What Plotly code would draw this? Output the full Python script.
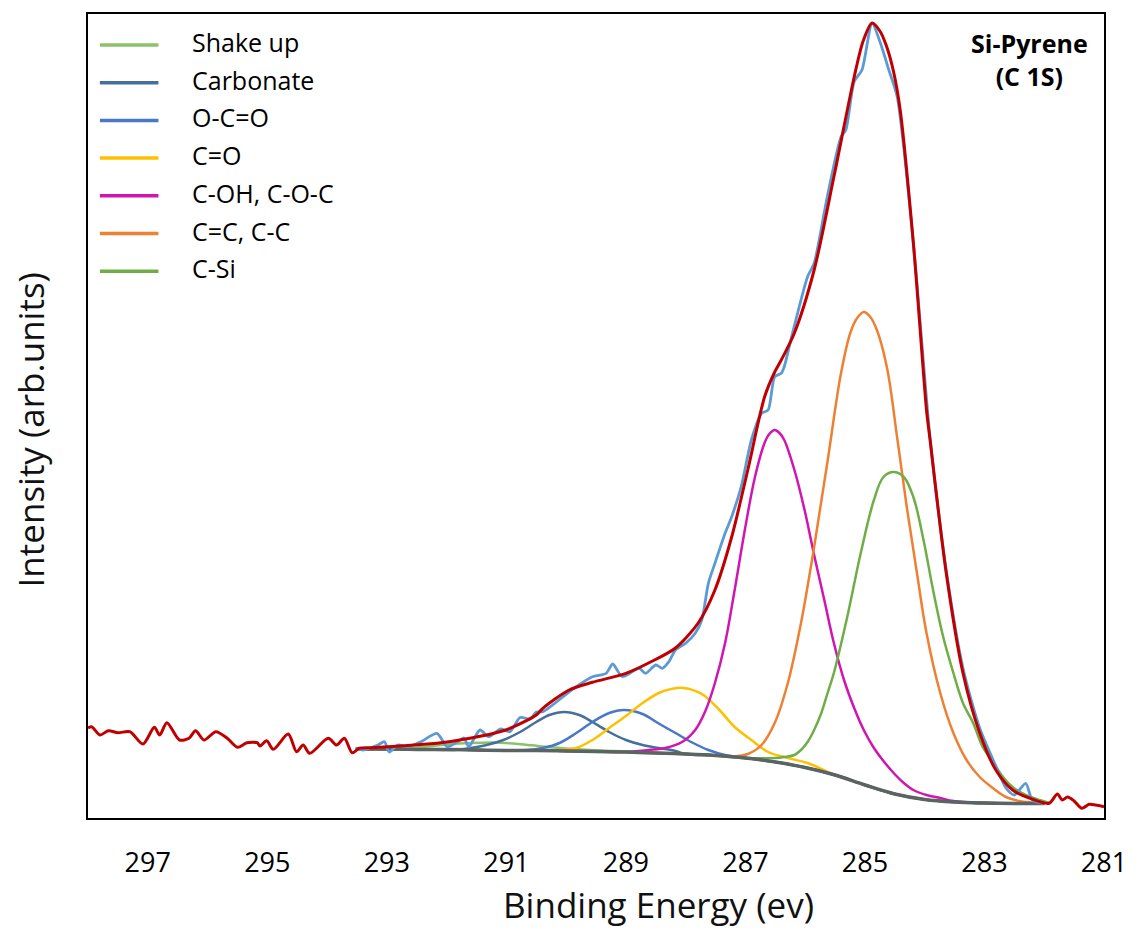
import plotly.graph_objects as go

# ---------------- data (binding energy in eV, intensity in arb. units) ----------------
TICK_VALUES = [297, 295, 293, 291, 289, 287, 285, 283, 281]
TICK_LABELS = ["297", "295", "293", "291", "289", "287", "285", "283", "281"]

BASE_E = [293.52, 293.0, 292.5, 292.0, 291.5, 291.0, 290.5, 290.0, 289.5, 289.0, 288.5, 288.0,
          287.5, 287.0, 286.5, 286.0, 285.5, 285.0, 284.5, 284.0, 283.5, 283.0, 282.5, 282.0]
BASE_I = [69, 69, 68.5, 68.5, 68, 67.5, 67.5, 67, 66.5, 66, 65, 64,
          62.5, 60, 56, 50.5, 43, 33, 24, 18.5, 16, 15, 14.5, 14.5]

SHAKE_E = [293.5, 292.8, 292.4, 292.0, 291.6, 291.2, 290.8, 290.4, 290.0, 289.6, 289.2, 288.8]
SHAKE_I = [69, 69.5, 71, 73.5, 75, 75.5, 74, 71.5, 69.5, 68, 67, 66]

CARB_E = [293.5, 292.4, 291.88, 291.60, 291.33, 291.05, 290.77, 290.50, 290.28, 290.03, 289.78,
          289.56, 289.28, 289.00, 288.72, 288.45, 288.17]
CARB_I = [69, 68.5, 68, 70, 73, 78, 86, 96, 103, 106, 103, 96, 86, 78, 73, 70, 67]

OCO_E = [291.5, 290.66, 290.39, 290.11, 289.83, 289.56, 289.28, 289.03, 288.72, 288.45, 288.17,
         287.89, 287.62, 287.34]
OCO_I = [68, 68, 70, 75, 85, 96, 105, 108, 104, 94.5, 85, 75.5, 68, 63]

CO_E = [290.5, 290.1, 289.83, 289.56, 289.28, 289.00, 288.72, 288.45, 288.24, 288.03, 287.73,
        287.45, 287.18, 286.90, 286.62, 286.29, 285.96]
CO_I = [67.5, 68, 70, 78, 90, 102, 115, 125, 129, 130, 124, 109, 91, 78, 66, 60, 55]

COH_E = [289.0, 288.62, 288.34, 288.06, 287.84, 287.67, 287.51, 287.34, 287.18, 287.01, 286.84,
         286.68, 286.60, 286.51, 286.43, 286.35, 286.18, 286.01, 285.85, 285.68, 285.52, 285.35,
         285.18, 285.02, 284.85, 284.69, 284.52, 284.35, 284.19, 283.97, 283.74, 283.52]
COH_I = [66, 68, 70, 76, 88, 107, 135, 175, 228, 288, 341, 375, 384, 388, 385, 378, 348, 308,
         263, 218, 175, 138, 110, 88, 70, 57, 45, 35, 28, 23, 20, 17]

CC_E = [287.2, 286.96, 286.73, 286.51, 286.29, 286.07, 285.85, 285.63, 285.40, 285.24, 285.13,
        285.02, 284.91, 284.80, 284.63, 284.46, 284.30, 284.13, 283.97, 283.74, 283.52, 283.30,
        283.08, 282.86, 282.64, 282.42]
CC_I = [61.5, 64, 73, 95, 135, 195, 271, 355, 445, 486, 500, 506, 501, 488, 450, 380, 311, 245,
        185, 125, 85, 58, 41, 30, 21, 17]

CSI_E = [287.0, 286.51, 286.35, 286.18, 286.07, 285.96, 285.85, 285.73, 285.63, 285.52, 285.30,
         285.07, 284.85, 284.69, 284.52, 284.35, 284.19, 284.02, 283.86, 283.69, 283.52, 283.36,
         283.19, 283.03, 282.86, 282.69, 282.53, 282.31, 282.08, 281.91]
CSI_I = [60, 60, 61, 63, 68, 76, 88, 105, 124, 145, 200, 265, 318, 341, 346, 341, 321, 278, 228,
         181, 145, 115, 95, 71, 56, 41, 31, 23, 18, 15]

RAW_E = [293.52, 293.40, 293.15, 293.04, 292.96, 292.82, 292.65, 292.43, 292.16, 291.99, 291.82,
         291.71, 291.63, 291.44, 291.30, 291.09, 290.94, 290.77, 290.60, 290.50, 290.39, 290.05,
         289.83, 289.56, 289.33, 289.22, 289.06, 288.78, 288.67, 288.50, 288.39, 288.28, 288.17,
         288.00, 287.84, 287.73, 287.62, 287.51, 287.34, 287.23, 287.07, 286.90, 286.73, 286.62,
         286.51, 286.40, 286.35, 286.24, 285.96, 285.85, 285.63, 285.40, 285.32, 285.18, 285.05,
         284.88, 284.74, 284.60, 284.46, 284.19, 283.91, 283.64, 283.36, 283.08, 282.81, 282.64,
         282.50, 282.31, 282.20, 282.03]
RAW_I = [70, 68, 73, 76.3, 66, 73, 71.3, 76.3, 84.7, 71.3, 76.3,
         80, 71.3, 88, 81.3, 89, 86.3, 100.5, 99, 106, 106.3, 121.3,
         131.3, 141.3, 144.7, 154, 141.3, 149.7, 144.7, 153, 149.7, 156.3, 168,
         174.7, 184.7, 198, 234.7, 254.7, 284.7, 301.3, 331.3, 378, 404.7, 408,
         441.3, 444.7, 451.3, 478, 541.3, 554.7, 621.3, 681.3, 688, 736.3, 748,
         794.7, 774.7, 748, 721.3, 575, 380, 248, 150, 90, 52, 30,
         23, 34.7, 18, 14.7]

ENV_E = [298.00, 297.94, 297.80, 297.66, 297.50, 297.30, 297.08, 296.89, 296.80, 296.68, 296.47,
         296.31, 296.20, 296.06, 295.86, 295.67, 295.50, 295.34, 295.17, 295.12, 295.01, 294.90,
         294.65, 294.51, 294.40, 294.29, 293.98, 293.84, 293.71, 293.58, 293.46,
         293.27, 292.71, 292.32, 292.16, 291.61, 291.05, 290.94, 290.50, 290.39, 289.95, 289.56,
         289.00, 288.62, 288.17, 287.79, 287.51, 287.23, 286.96, 286.68, 286.51, 286.40, 286.18,
         285.85, 285.52, 285.18, 285.03, 284.88, 284.75, 284.64, 284.52, 284.41, 284.19, 283.97,
         283.91, 283.64, 283.36, 283.08, 282.81, 282.53, 282.25, 281.92, 281.78, 281.70, 281.61,
         281.50, 281.37, 281.25, 281.14, 281.00]
ENV_I = [90, 91.3, 83, 87.3, 85.3, 86.3, 74, 90.7, 83, 95.3, 78,
         79.7, 87.3, 78, 86.3, 79.7, 70.7, 75.3, 75.3, 72, 77.3, 68.7,
         84, 66.3, 73, 64.7, 79.7, 73, 79.7, 65.3, 69.7,
         70.3, 72.3, 74, 74.7, 79.7, 87.3, 89.7, 103, 109.7, 128, 135.7,
         144.7, 155, 170, 195, 228, 281, 348, 421, 446, 458, 485,
         548, 641, 741, 777, 795, 787, 772, 746, 708, 575, 408,
         378, 245, 145, 85, 48, 28, 20, 14.7, 24, 18, 21,
         17, 9.7, 13.7, 13, 11.3]

LEGEND_NAMES = ["Shake up", "Carbonate", "O-C=O", "C=O", "C-OH, C-O-C", "C=C, C-C", "C-Si"]
TITLE_LINES = ["Si-Pyrene", "(C 1S)"]
X_TITLE = "Binding Energy (ev)"
Y_TITLE = "Intensity (arb.units)"

# ---------------- styling ----------------
FONT = "Open Sans"
COLORS = {
    "Shake up": "#8dc26a",
    "Carbonate": "#44709b",
    "O-C=O": "#4a78c8",
    "C=O": "#ffc000",
    "C-OH, C-O-C": "#d016b0",
    "C=C, C-C": "#ee8033",
    "C-Si": "#70ad47",
}
BASE_COLOR = "#5b6464"
RAW_COLOR = "#5b9bd5"
ENV_COLOR = "#c00000"

W, H = 1139, 934
PLOT_L, PLOT_R, PLOT_T, PLOT_B = 88, 1112, 14, 818


def pxx(x):
    return (x - PLOT_L) / (PLOT_R - PLOT_L)


def pxy(y):
    return (PLOT_B - y) / (PLOT_B - PLOT_T)


def with_baseline(es, is_):
    """Attach the read baseline points lying outside a component's own read range."""
    hi, lo = max(es), min(es)
    left = [(e, i) for e, i in zip(BASE_E, BASE_I) if e > hi + 0.15]
    right = [(e, i) for e, i in zip(BASE_E, BASE_I) if e < lo - 0.15]
    pts = left + list(zip(es, is_)) + right
    return [p[0] for p in pts], [p[1] for p in pts]


fig = go.Figure()

components = [
    ("Shake up", SHAKE_E, SHAKE_I),
    ("Carbonate", CARB_E, CARB_I),
    ("O-C=O", OCO_E, OCO_I),
    ("C=O", CO_E, CO_I),
    ("C-OH, C-O-C", COH_E, COH_I),
    ("C=C, C-C", CC_E, CC_I),
    ("C-Si", CSI_E, CSI_I),
]
for name, es, is_ in components:
    xe, yi = with_baseline(es, is_)
    fig.add_trace(go.Scatter(x=xe, y=yi, mode="lines", name=name, showlegend=False,
                             line=dict(color=COLORS[name], width=2.5, shape="spline", smoothing=1.0)))

fig.add_trace(go.Scatter(x=BASE_E, y=BASE_I, mode="lines", name="Background", showlegend=False,
                         line=dict(color=BASE_COLOR, width=3.5, shape="spline", smoothing=1.0)))
fig.add_trace(go.Scatter(x=RAW_E, y=RAW_I, mode="lines", name="Raw", showlegend=False,
                         line=dict(color=RAW_COLOR, width=2.8, shape="spline", smoothing=0.7)))
fig.add_trace(go.Scatter(x=ENV_E, y=ENV_I, mode="lines", name="Envelope", showlegend=False,
                         line=dict(color=ENV_COLOR, width=3, shape="spline", smoothing=0.8)))

# manual legend
shapes = []
annotations = []
for k, name in enumerate(LEGEND_NAMES):
    sy = 45 + 37.7 * k
    shapes.append(dict(type="line", xref="paper", yref="paper",
                       x0=pxx(100), x1=pxx(159), y0=pxy(sy), y1=pxy(sy),
                       line=dict(color=COLORS[name], width=3.5)))
    annotations.append(dict(text=name, xref="paper", yref="paper", x=pxx(191), y=pxy(sy - 3),
                            xanchor="left", yanchor="middle", showarrow=False,
                            font=dict(family=FONT, size=25, color="black")))

annotations.append(dict(text="<b>" + TITLE_LINES[0] + "</b><br><b>" + TITLE_LINES[1] + "</b>",
                        xref="paper", yref="paper", x=pxx(1037), y=pxy(24),
                        xanchor="center", yanchor="top", align="center", showarrow=False,
                        font=dict(family=FONT, size=25, color="black")))
annotations.append(dict(text=X_TITLE, xref="paper", yref="paper", x=pxx(663), y=pxy(905),
                        xanchor="center", yanchor="middle", showarrow=False,
                        font=dict(family=FONT, size=35, color="#111111")))
annotations.append(dict(text=Y_TITLE, xref="paper", yref="paper", x=pxx(30), y=pxy(430),
                        xanchor="center", yanchor="middle", showarrow=False, textangle=-90,
                        font=dict(family=FONT, size=35, color="#111111")))

fig.update_layout(
    width=W, height=H, autosize=False,
    margin=dict(l=PLOT_L, r=W - PLOT_R, t=PLOT_T, b=H - PLOT_B, pad=0),
    paper_bgcolor="white", plot_bgcolor="white",
    showlegend=False,
    shapes=shapes, annotations=annotations,
    xaxis=dict(range=[298, 281], tickmode="array", tickvals=TICK_VALUES, ticktext=TICK_LABELS,
               ticks="outside", ticklen=20, tickcolor="rgba(0,0,0,0)",
               tickfont=dict(family=FONT, size=27, color="black"),
               showgrid=False, zeroline=False, showline=True, linecolor="black", linewidth=2,
               mirror=True),
    yaxis=dict(range=[0, 804], showticklabels=False, ticks="", showgrid=False, zeroline=False,
               showline=True, linecolor="black", linewidth=2, mirror=True),
)

fig.write_html("out.html")
